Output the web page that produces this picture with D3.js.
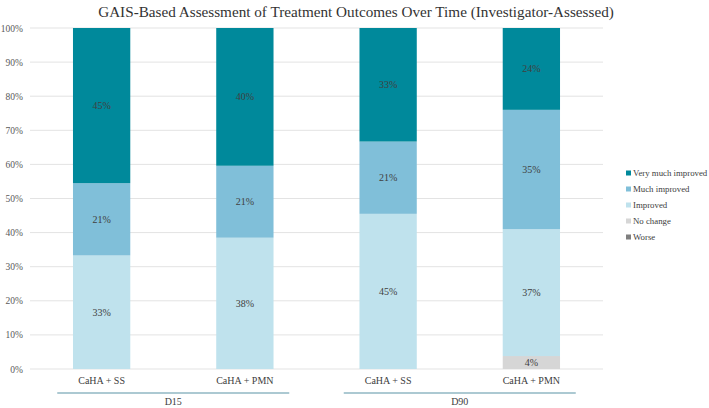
<!DOCTYPE html>
<html lang="en">
<head>
  <meta charset="UTF-8">
  <title>GAIS-Based Assessment of Treatment Outcomes Over Time</title>
  <style>
    body, html { margin: 0; padding: 0; background: #fff; }
    svg { display: block; }
  </style>
</head>
<body>
  <script src="https://d3js.org/d3.v7.min.js"></script>
  <script>
    // Chart data
    const bars = ['D15|CaHA + SS', 'D15|CaHA + PMN', 'D90|CaHA + SS', 'D90|CaHA + PMN'];
    const barLabels = ['CaHA + SS', 'CaHA + PMN', 'CaHA + SS', 'CaHA + PMN'];
    const groups = ['D15', 'D90'];
    const outcomes = ['Worse', 'No change', 'Improved', 'Much improved', 'Very much improved'];
    const worse = [0, 0, 0, 0];
    const noChange = [0, 0, 0, 3.8];
    const improved = [33.3, 38.5, 45.5, 37.2];
    const muchImproved = [21.2, 21.1, 21.2, 35.0];
    const veryMuchImproved = [45.5, 40.4, 33.3, 24.0];
    const labels = {
      'No change': ['', '', '', '4%'],
      'Improved': ['33%', '38%', '45%', '37%'],
      'Much improved': ['21%', '21%', '21%', '35%'],
      'Very much improved': ['45%', '40%', '33%', '24%']
    };
    const yTicks = [0, 10, 20, 30, 40, 50, 60, 70, 80, 90, 100];

    const colors = {
      'Worse': '#7f7f7f',
      'No change': '#d6d6d6',
      'Improved': '#bfe2ed',
      'Much improved': '#80bfd9',
      'Very much improved': '#00899b'
    };

    const serif = '"Liberation Serif", "Times New Roman", serif';
    const width = 709, height = 408;
    const margin = { top: 28, right: 106, bottom: 39, left: 30 };

    const svg = d3.select('body').append('svg')
      .attr('width', width)
      .attr('height', height);

    const rows = bars.map((b, i) => ({
      key: b,
      'Worse': worse[i],
      'No change': noChange[i],
      'Improved': improved[i],
      'Much improved': muchImproved[i],
      'Very much improved': veryMuchImproved[i]
    }));

    const x = d3.scaleBand()
      .domain(bars)
      .range([margin.left, width - margin.right])
      .paddingInner(0.6)
      .paddingOuter(0.3);

    const y = d3.scaleLinear()
      .domain([0, 100])
      .range([height - margin.bottom, margin.top]);

    // grid lines
    svg.append('g')
      .selectAll('line')
      .data(yTicks)
      .join('line')
      .attr('x1', margin.left)
      .attr('x2', width - margin.right)
      .attr('y1', d => y(d))
      .attr('y2', d => y(d))
      .attr('stroke', '#e3e3e3')
      .attr('stroke-width', 1);

    // y axis labels
    const yAxis = d3.axisLeft(y).tickValues(yTicks).tickFormat(d => d + '%').tickSize(0).tickPadding(7);
    svg.append('g')
      .attr('transform', `translate(${margin.left},0)`)
      .call(yAxis)
      .call(g => g.select('.domain').remove())
      .selectAll('text')
      .style('font-family', serif)
      .style('font-size', '9.5px')
      .attr('fill', '#595959');

    // stacked bars
    const stack = d3.stack().keys(outcomes);
    const series = stack(rows);

    const layer = svg.append('g')
      .selectAll('g')
      .data(series)
      .join('g')
      .attr('fill', d => colors[d.key]);

    layer.selectAll('rect')
      .data(d => d)
      .join('rect')
      .attr('x', d => x(d.data.key))
      .attr('width', x.bandwidth())
      .attr('y', d => y(d[1]))
      .attr('height', d => y(d[0]) - y(d[1]));

    // segment labels
    series.forEach(s => {
      if (!labels[s.key]) return;
      s.forEach((d, i) => {
        const txt = labels[s.key][i];
        if (!txt) return;
        svg.append('text')
          .attr('x', x(d.data.key) + x.bandwidth() / 2)
          .attr('y', (y(d[0]) + y(d[1])) / 2)
          .attr('dy', '0.35em')
          .attr('text-anchor', 'middle')
          .style('font-family', serif)
          .style('font-size', '10px')
          .attr('fill', '#404040')
          .text(txt);
      });
    });

    // category labels
    const base = height - margin.bottom;
    svg.append('g')
      .selectAll('text')
      .data(bars)
      .join('text')
      .attr('x', d => x(d) + x.bandwidth() / 2)
      .attr('y', base + 15)
      .attr('text-anchor', 'middle')
      .style('font-family', serif)
      .style('font-size', '10px')
      .attr('fill', '#404040')
      .text((d, i) => barLabels[i]);

    // group lines and labels
    groups.forEach(g => {
      const members = bars.filter(b => b.startsWith(g + '|'));
      const x0 = x(members[0]) + x.bandwidth() / 2;
      const x1 = x(members[members.length - 1]) + x.bandwidth() / 2;
      const cx = (x0 + x1) / 2;
      svg.append('line')
        .attr('x1', cx - 116)
        .attr('x2', cx + 116)
        .attr('y1', base + 24)
        .attr('y2', base + 24)
        .attr('stroke', '#5b93a6')
        .attr('stroke-width', 1.2);
      svg.append('text')
        .attr('x', cx)
        .attr('y', base + 36)
        .attr('text-anchor', 'middle')
        .style('font-family', serif)
        .style('font-size', '10px')
        .attr('fill', '#404040')
        .text(g);
    });

    // title
    svg.append('text')
      .attr('x', 356)
      .attr('y', 17)
      .attr('text-anchor', 'middle')
      .style('font-family', serif)
      .style('font-size', '15.2px')
      .attr('fill', '#333')
      .text('GAIS-Based Assessment of Treatment Outcomes Over Time (Investigator-Assessed)');

    // legend
    const legend = svg.append('g')
      .attr('transform', 'translate(626,173)');
    const legendItems = outcomes.slice().reverse();
    legendItems.forEach((k, i) => {
      const row = legend.append('g').attr('transform', `translate(0,${i * 16})`);
      row.append('rect')
        .attr('x', 0).attr('y', -2.5)
        .attr('width', 5).attr('height', 5)
        .attr('fill', colors[k]);
      row.append('text')
        .attr('x', 7)
        .attr('y', 0)
        .attr('dy', '0.35em')
        .style('font-family', serif)
        .style('font-size', '8.8px')
        .attr('fill', '#404040')
        .text(k);
    });
  </script>
</body>
</html>
